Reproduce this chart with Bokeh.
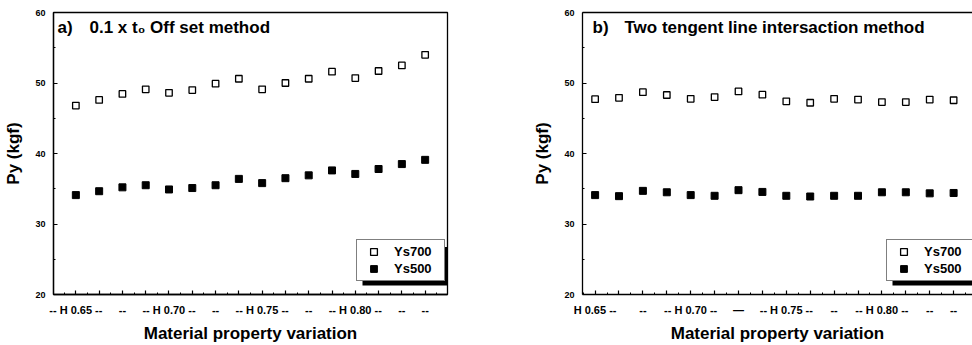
from bokeh.plotting import figure
from bokeh.layouts import row
from bokeh.models import (FixedTicker, Label, Legend, LegendItem, BoxAnnotation,
                          LinearAxis, Range1d)
from bokeh.embed import file_html
from bokeh.resources import INLINE

# ---------------- data ----------------
idx = list(range(1, 17))

a_ys700 = [46.8, 47.6, 48.45, 49.1, 48.6, 49.0, 49.9, 50.6,
           49.1, 50.0, 50.6, 51.6, 50.7, 51.7, 52.5, 54.0]
a_ys500 = [34.1, 34.65, 35.2, 35.5, 34.9, 35.1, 35.5, 36.4,
           35.8, 36.5, 36.9, 37.6, 37.1, 37.8, 38.5, 39.1]

b_ys700 = [47.7, 47.9, 48.7, 48.3, 47.75, 48.0, 48.8, 48.35,
           47.4, 47.2, 47.75, 47.65, 47.3, 47.3, 47.65, 47.55]
b_ys500 = [34.1, 33.95, 34.7, 34.5, 34.1, 34.0, 34.8, 34.55,
           34.0, 33.9, 34.0, 34.0, 34.5, 34.5, 34.35, 34.4]

a_tick_labels = {1: "-- H 0.65 --", 3: "--", 5: "-- H 0.70 --", 7: "--",
                 9: "-- H 0.75 --", 11: "--", 13: "-- H 0.80 --", 15: "--", 16: "--"}
b_tick_labels = {1: "H 0.65 --", 3: "--", 5: "-- H 0.70 --", 7: "\u2014",
                 9: "-- H 0.75 --", 11: "--", 13: "-- H 0.80 --", 15: "--", 16: "--"}

y_ticks = [20, 30, 40, 50, 60]
y_minor = [25, 35, 45, 55]

FONT = "Liberation Sans"
H = 345
TOP = 12
BOTTOM = 48


def make_panel(width, bl, br, xr, ys700, ys500, tick_labels, tag, title,
               tag_px, title_px, full_box, leg_left):
    frame_w = width - bl - br
    frame_h = H - TOP - BOTTOM
    p = figure(width=width, height=H, output_backend="svg", toolbar_location=None,
               x_range=Range1d(*xr), y_range=Range1d(20, 60),
               min_border_left=bl, min_border_right=br,
               min_border_top=TOP, min_border_bottom=BOTTOM,
               background_fill_color="white", border_fill_color="white")
    p.grid.visible = False

    ppu_x = frame_w / (xr[1] - xr[0])
    ppu_y = frame_h / 40.0

    def dx(px):
        return xr[0] + px / ppu_x

    def dy(px_from_top):
        return 60 - px_from_top / ppu_y

    # axes
    xa = p.below[0]
    xa.ticker = FixedTicker(ticks=idx, minor_ticks=[i + 0.5 for i in range(0, 17)])
    xa.major_label_overrides = {i: tick_labels.get(i, "") for i in idx}
    xa.axis_label = "Material property variation"
    ya = p.left[0]
    ya.ticker = FixedTicker(ticks=y_ticks, minor_ticks=y_minor)
    ya.axis_label = "Py (kgf)"
    for ax in (xa, ya):
        ax.axis_line_color = "black"
        ax.axis_line_width = 1.3
        ax.major_tick_in = 4
        ax.major_tick_out = 0
        ax.minor_tick_in = 2
        ax.minor_tick_out = 0
        ax.major_tick_line_width = 1.2
        ax.major_label_text_font = FONT
        ax.major_label_text_font_style = "bold"
        ax.major_label_text_color = "black"
        ax.axis_label_text_font = FONT
        ax.axis_label_text_font_style = "bold"
        ax.axis_label_text_font_size = "17px"
        ax.axis_label_text_color = "black"
    xa.major_label_text_font_size = "11px"
    ya.major_label_text_font_size = "9px"
    xa.major_label_standoff = 9
    xa.axis_label_standoff = 5
    ya.major_label_standoff = 8
    ya.axis_label_standoff = 9

    if full_box:
        p.outline_line_color = "black"
        p.outline_line_width = 1.3
    else:
        p.outline_line_color = None
        top_ax = LinearAxis(ticker=FixedTicker(ticks=[]), major_tick_in=0,
                            major_tick_out=0, minor_tick_in=0, minor_tick_out=0,
                            major_label_standoff=0, axis_label=None,
                            axis_line_width=1.3, axis_line_color="black")
        p.add_layout(top_ax, "above")

    r1 = p.scatter(idx, ys700, marker="square", size=6.5, fill_color="white",
                   line_color="black", line_width=1.3)
    r2 = p.scatter(idx, ys500, marker="square", size=7, fill_color="black",
                   line_color="black", line_width=1)

    # legend with shadow (positions in px from frame top-left)
    leg_top, leg_w, leg_h = 232, 87, 40
    shadow = BoxAnnotation(left=dx(leg_left + 6), right=dx(leg_left + leg_w + 5),
                           top=dy(leg_top + 5), bottom=dy(leg_top + leg_h + 4),
                           fill_color="black", fill_alpha=1, line_color=None,
                           level="overlay")
    p.add_layout(shadow)
    legend = Legend(items=[LegendItem(label="Ys700", renderers=[r1]),
                           LegendItem(label="Ys500", renderers=[r2])],
                    location=(leg_left, frame_h - leg_top - leg_h), margin=0,
                    padding=3, spacing=0, glyph_width=27, glyph_height=17,
                    label_height=17, label_width=47, label_standoff=7,
                    label_text_font=FONT, label_text_font_style="bold",
                    label_text_font_size="13px", label_text_color="black",
                    border_line_color="black",
                    border_line_width=1.2, background_fill_color="white",
                    background_fill_alpha=1, level="overlay")
    p.add_layout(legend)

    p.add_layout(Label(x=dx(tag_px), y=dy(15), text=tag, text_font=FONT,
                       text_font_style="bold", text_font_size="17px",
                       text_baseline="middle", text_color="black"))
    p.add_layout(Label(x=dx(title_px), y=dy(15), text=title, text_font=FONT,
                       text_font_style="bold", text_font_size="17px",
                       text_baseline="middle", text_color="black"))
    return p


# left panel: figure spans page x 0..480, frame 53..447
pa = make_panel(480, 53, 33, (0.04, 16.96), a_ys700, a_ys500, a_tick_labels,
                "a)", "0.1 x t\u2080 Off set method", 4, 36, True, 303)
# right panel: figure spans page x 480..972, frame 582..972
pb = make_panel(492, 102, 0, (0.473, 16.79), b_ys700, b_ys500, b_tick_labels,
                "b)", "Two tengent line intersaction method", 10, 42, False, 304)

layout = row(pa, pb)
open("out.html", "w").write(file_html(layout, INLINE))
